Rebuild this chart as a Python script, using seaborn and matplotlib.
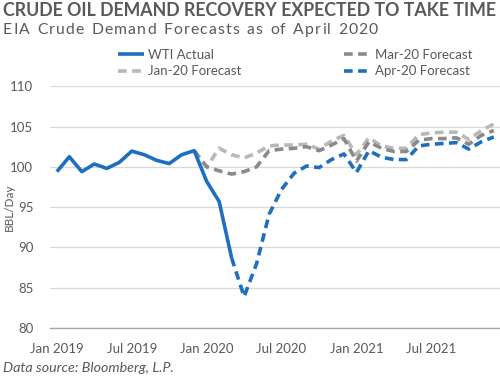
import numpy as np
import pandas as pd
import matplotlib
matplotlib.use("Agg")
import matplotlib.pyplot as plt
import seaborn as sns

# ---- data ----
months = pd.date_range("2019-01-01", "2021-12-01", freq="MS")
month_idx = list(range(len(months)))

wti_actual = [99.4, 101.25, 99.4, 100.35, 99.8, 100.55, 101.95, 101.5, 100.8, 100.4,
              101.5, 102.0, 98.2, 95.7, 88.7]                     # Jan 2019 .. Mar 2020
jan20_fc = [102.0, 100.0, 102.3, 101.5, 101.1, 101.7, 102.6, 102.7, 102.7, 102.8, 102.2,
            103.2, 103.9, 101.5, 103.6, 102.6, 102.3, 102.3, 104.0, 104.2, 104.3, 104.3,
            103.4, 104.5, 105.3]                                  # Dec 2019 .. Dec 2021
mar20_fc = [102.0, 100.0, 99.5, 99.1, 99.4, 100.0, 102.0, 102.2, 102.3, 102.5, 102.0,
            102.7, 103.5, 100.7, 103.1, 102.3, 101.9, 101.9, 103.3, 103.5, 103.5, 103.6,
            102.8, 103.9, 104.5]                                  # Dec 2019 .. Dec 2021
apr20_fc = [88.7, 83.9, 88.0, 94.1, 97.2, 99.2, 100.1, 99.9, 100.9, 101.6, 99.3, 102.0,
            101.2, 100.9, 100.9, 102.6, 102.8, 102.9, 103.0, 102.2, 103.1, 103.7]  # Mar 2020 .. Dec 2021

tick_pos = [0, 6, 12, 18, 24, 30]
tick_labels = ["Jan 2019", "Jul 2019", "Jan 2020", "Jul 2020", "Jan 2021", "Jul 2021"]
y_ticks = [80, 85, 90, 95, 100, 105, 110]

title = "CRUDE OIL DEMAND RECOVERY EXPECTED TO TAKE TIME"
subtitle = "EIA Crude Demand Forecasts as of April 2020"
source = "Data source: Bloomberg, L.P."

# ---- style ----
sns.set_style("white")
plt.rcParams["font.family"] = ["Lato", "DejaVu Sans"]
TXT = "#595959"
BLUE = "#1f6fc0"
LGRAY = "#b8b8b8"
DGRAY = "#8a8a8a"

fig = plt.figure(figsize=(5.0, 3.78), dpi=100)
ax = fig.add_axes([0.10, 0.132, 0.90, 0.640])

def frame(start, vals):
    return pd.DataFrame({"m": month_idx[start:start + len(vals)], "v": vals})

lw = 2.6
dash = (2.4, 1.5)
sns.lineplot(data=frame(11, jan20_fc), x="m", y="v", ax=ax,
             color=LGRAY, lw=lw, label="Jan-20 Forecast").lines[-1].set_dashes(dash)
sns.lineplot(data=frame(11, mar20_fc), x="m", y="v", ax=ax,
             color=DGRAY, lw=lw, label="Mar-20 Forecast").lines[-1].set_dashes(dash)
sns.lineplot(data=frame(14, apr20_fc), x="m", y="v", ax=ax,
             color=BLUE, lw=lw, label="Apr-20 Forecast").lines[-1].set_dashes(dash)
sns.lineplot(data=frame(0, wti_actual), x="m", y="v", ax=ax,
             color=BLUE, lw=lw, label="WTI Actual")

for ln in ax.lines:
    ln.set_solid_capstyle("butt")
    ln.set_dash_capstyle("butt")

ax.set_xlim(-0.55, 35.5)
ax.set_ylim(80, 110)
ax.set_yticks(y_ticks)
ax.set_xticks(tick_pos)
ax.set_xticklabels(tick_labels)
ax.set_xlabel("")
ax.set_ylabel("")
ax.tick_params(axis="both", length=0, labelsize=9.5, colors=TXT)
ax.tick_params(axis="x", pad=11)
ax.tick_params(axis="y", pad=12)
ax.grid(axis="y", color="#d9d9d9", lw=0.9)
ax.set_axisbelow(True)
for s in ["top", "right", "left"]:
    ax.spines[s].set_visible(False)
ax.spines["bottom"].set_color("#a6a6a6")
ax.spines["bottom"].set_linewidth(1.0)

handles, labels = ax.get_legend_handles_labels()
hmap = dict(zip(labels, handles))
if ax.get_legend():
    ax.get_legend().remove()
order = ["WTI Actual", "Jan-20 Forecast", "Mar-20 Forecast", "Apr-20 Forecast"]
fig.legend([hmap[k] for k in order], order, ncol=2, loc="upper left",
           bbox_to_anchor=(0.225, 0.885), frameon=False, fontsize=9.5,
           labelcolor=TXT, handlelength=2.0, handletextpad=0.3,
           columnspacing=7.8, borderaxespad=0, labelspacing=0.35)

fig.text(0.018, 0.452, "BBL/Day", rotation=90, fontsize=8.5, color=TXT,
         ha="center", va="center")
fig.text(0.006, 0.995, title, fontsize=12.8, fontweight="bold", color=TXT,
         ha="left", va="top")
fig.text(0.006, 0.01, source, fontsize=10.3, style="italic",
         color=TXT, ha="left", va="bottom")

# letter-spaced subtitle (spans ~3..378 px in the reference)
renderer = fig.canvas.get_renderer()
W = fig.bbox.width
x0_px, x1_px = 3.0, 378.0
kw = dict(fontsize=11.3, color=TXT, va="top", ha="left")
widths = []
for ch in subtitle:
    t = fig.text(0, 0, ch if ch != " " else "n", **kw)
    w = t.get_window_extent(renderer).width
    if ch == " ":
        w *= 0.55
    widths.append(w)
    t.remove()
gap = (x1_px - x0_px - sum(widths)) / (len(subtitle) - 1)
x = x0_px
for ch, w in zip(subtitle, widths):
    if ch != " ":
        fig.text(x / W, 0.938, ch, **kw)
    x += w + gap

fig.savefig("out.png", dpi=100)
